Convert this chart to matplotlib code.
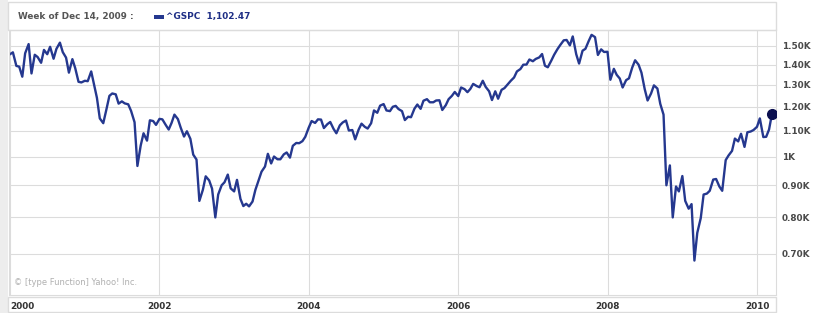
import numpy as np
import pandas as pd
import matplotlib
matplotlib.use("Agg")
import matplotlib.pyplot as plt
from matplotlib.patches import Rectangle

# S&P 500 (^GSPC), semi-monthly closes (1st and 15th of each month)
v2000 = [1455, 1465, 1394, 1390, 1340, 1460, 1510, 1356, 1452, 1440, 1410, 1478,
         1455, 1495, 1431, 1484, 1518, 1466, 1437, 1360, 1429, 1382, 1315, 1312]
v2001 = [1320, 1318, 1366, 1301, 1240, 1150, 1130, 1183, 1249, 1260, 1256, 1214,
         1224, 1215, 1211, 1182, 1134, 966, 1041, 1089, 1060, 1142, 1139, 1123]
v2002 = [1148, 1146, 1122, 1104, 1131, 1166, 1147, 1111, 1076, 1097, 1067, 1007,
         989, 850, 885, 930, 916, 889, 800, 870, 900, 910, 936, 890]
v2003 = [880, 918, 856, 834, 841, 833, 848, 885, 917, 946, 964, 1010,
         975, 1000, 990, 990, 1008, 1015, 996, 1040, 1051, 1050, 1058, 1075]
v2004 = [1112, 1139, 1131, 1146, 1145, 1110, 1126, 1135, 1107, 1089, 1121, 1133,
         1141, 1100, 1102, 1065, 1104, 1128, 1115, 1108, 1130, 1184, 1174, 1205]
v2005 = [1212, 1184, 1181, 1200, 1204, 1190, 1181, 1143, 1157, 1155, 1192, 1210,
         1191, 1227, 1234, 1220, 1220, 1228, 1229, 1186, 1207, 1234, 1249, 1267]
v2006 = [1248, 1288, 1280, 1266, 1281, 1305, 1295, 1289, 1320, 1291, 1270, 1230,
         1270, 1236, 1277, 1285, 1304, 1320, 1336, 1366, 1378, 1400, 1401, 1427]
v2007 = [1418, 1430, 1438, 1456, 1395, 1387, 1421, 1452, 1482, 1505, 1531, 1533,
         1503, 1553, 1455, 1406, 1474, 1484, 1527, 1562, 1549, 1451, 1481, 1467]
v2008 = [1468, 1325, 1379, 1349, 1331, 1288, 1323, 1332, 1386, 1423, 1400, 1360,
         1280, 1228, 1260, 1298, 1283, 1213, 1166, 900, 968, 800, 896, 880]
v2009 = [931, 850, 826, 840, 683, 756, 798, 870, 873, 882, 919, 921,
         896, 882, 987, 1004, 1021, 1068, 1057, 1087, 1036, 1093, 1096, 1102]
v2010 = [1115, 1150, 1074, 1075, 1104, 1168]

closes = v2000 + v2001 + v2002 + v2003 + v2004 + v2005 + v2006 + v2007 + v2008 + v2009 + v2010
dates = pd.date_range("2000-01-01", "2010-03-15", freq="SMS")

y_ticks = [700, 800, 900, 1000, 1100, 1200, 1300, 1400, 1500]
y_labels = ["0.70K", "0.80K", "0.90K", "1K", "1.10K", "1.20K", "1.30K", "1.40K", "1.50K"]
x_years = [2000, 2002, 2004, 2006, 2008, 2010]

header_left = "Week of Dec 14, 2009 :"
header_series = "^GSPC  1,102.47"
credit = "\u00a9 [type Function] Yahoo! Inc."

W, H = 819, 313
LINE = "#25388f"
GRID = "#dcdcdc"

fig = plt.figure(figsize=(W / 100, H / 100), dpi=100)
fig.patch.set_facecolor("white")


def fx(px):
    return px / W


def fy(py):
    return 1 - py / H


# left gray band, header box and x-label box (behind the axes)
fig.add_artist(Rectangle((0, 0), fx(8), 1, transform=fig.transFigure,
                         facecolor="#ededed", edgecolor="none", zorder=-5))
fig.add_artist(Rectangle((fx(8), fy(30)), fx(776 - 8), fy(2) - fy(30),
                         transform=fig.transFigure, facecolor="white",
                         edgecolor=GRID, linewidth=1, zorder=-5))
fig.add_artist(Rectangle((fx(8), fy(312)), fx(776 - 8), fy(297) - fy(312),
                         transform=fig.transFigure, facecolor="none",
                         edgecolor=GRID, linewidth=1, zorder=-5))

ax = fig.add_axes([fx(9), fy(295), fx(776 - 9), fy(30) - fy(295)])
ax.patch.set_alpha(0)
ax.plot(dates, closes, color=LINE, linewidth=1.7, solid_joinstyle="round")
ax.plot(dates[-1], closes[-1], "o", color="#0b0f4f", markersize=7, zorder=5)

ax.set_yscale("log")
ax.set_ylim(602, 1590)
ax.set_xlim(pd.Timestamp("1999-12-27"), pd.Timestamp("2010-04-04"))

ax.set_yticks(y_ticks)
ax.set_yticklabels(y_labels)
ax.yaxis.set_minor_locator(matplotlib.ticker.NullLocator())
ax.yaxis.tick_right()
ax.tick_params(axis="y", length=0, pad=4, labelsize=6.4, labelcolor="#4a4a4a")
for lab in ax.get_yticklabels():
    lab.set_fontweight("bold")

ax.set_xticks([pd.Timestamp(f"{y}-01-01") for y in x_years])
ax.set_xticklabels([str(y) for y in x_years])
ax.tick_params(axis="x", length=0, pad=5, labelsize=6.4, labelcolor="#333333")
for lab in ax.get_xticklabels():
    lab.set_fontweight("bold")
ax.get_xticklabels()[0].set_horizontalalignment("left")

ax.grid(True, color=GRID, linewidth=0.8)
ax.set_axisbelow(True)
for s in ax.spines.values():
    s.set_color(GRID)
    s.set_linewidth(0.8)

ax.text(0.007, 0.03, credit, transform=ax.transAxes, fontsize=6,
        color="#b0b0b0", ha="left", va="bottom")

# header texts
fig.text(fx(18), fy(17), header_left, fontsize=6.4, fontweight="bold",
         color="#555555", ha="left", va="center")
fig.add_artist(Rectangle((fx(154), fy(19)), fx(10), fy(15) - fy(19),
                         transform=fig.transFigure, facecolor="#25388f",
                         edgecolor="none"))
fig.text(fx(166), fy(17), header_series, fontsize=6.4, fontweight="bold",
         color="#1f2f86", ha="left", va="center")

fig.savefig("out.png", dpi=100)
